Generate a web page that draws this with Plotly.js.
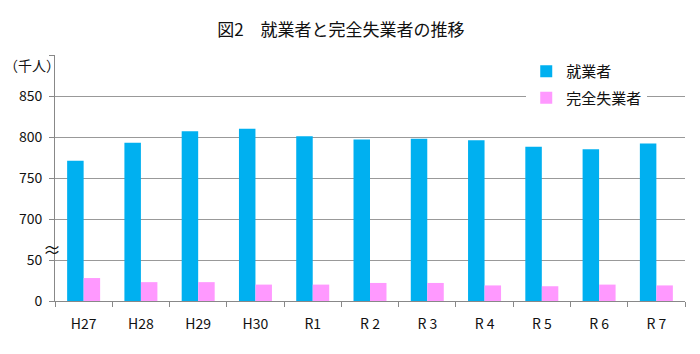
<!DOCTYPE html>
<html>
<head>
<meta charset="utf-8">
<script src="https://cdn.plot.ly/plotly-3.0.1.min.js"></script>
<style>html,body{margin:0;padding:0;background:#fff;}#chart{width:700px;height:354px;}</style>
</head>
<body>
<div id="chart"></div>
<script>
// Data (thousand persons)
const categories = ['H27', 'H28', 'H29', 'H30', 'R1', 'R 2', 'R 3', 'R 4', 'R 5', 'R 6', 'R 7'];
const employed = [771, 793, 807, 810, 801, 797, 798, 796, 788, 785, 792];
const unemployed = [28, 23, 23, 20, 20, 22, 22, 19, 18, 20, 19];
const tickValuesReal = [0, 50, 700, 750, 800, 850];
const tickLabels = ['0', '50', '700', '750', '800', '850'];

// Broken axis: 0-50 shown as is, values of 700 and above shifted down (700 -> 100)
const BREAK_SHIFT = 600;
function toAxis(v) { return v >= 100 ? v - BREAK_SHIFT : v; }

const FONT = '"Noto Sans CJK JP", "Noto Sans", sans-serif';

const traces = [
  {
    type: 'bar', name: '就業者', x: categories, y: employed.map(toAxis),
    customdata: employed, hovertemplate: '%{x}: %{customdata}<extra>就業者</extra>',
    marker: {color: '#00B0F0'}, legendgroup: 'a'
  },
  {
    type: 'bar', name: '完全失業者', x: categories, y: unemployed.map(toAxis),
    customdata: unemployed, hovertemplate: '%{x}: %{customdata}<extra>完全失業者</extra>',
    marker: {color: '#FF99FF'}, legendgroup: 'b'
  }
];

const tickvals = tickValuesReal.map(toAxis).concat([300]);
const ticktext = tickLabels.concat(['']);

const layout = {
  width: 700, height: 354,
  margin: {l: 55, r: 15, t: 55, b: 53},
  paper_bgcolor: '#fff', plot_bgcolor: '#fff',
  font: {family: FONT, size: 14, color: '#222'},
  title: {text: '図2　就業者と完全失業者の推移', x: 0.487, xanchor: 'center', y: 0.915, yanchor: 'middle',
          font: {family: FONT, size: 17, color: '#111'}},
  barmode: 'group', bargap: 0.424, bargroupgap: 0,
  showlegend: true,
  legend: {x: 0.748, xanchor: 'left', y: 1.0, yanchor: 'top', bgcolor: '#fff',
           font: {family: FONT, size: 15, color: '#111'}, traceorder: 'grouped', tracegroupgap: 4,
           itemwidth: 30},
  xaxis: {
    type: 'category', range: [-0.5, 10.5], tickson: 'boundaries',
    ticks: 'outside', ticklen: 5, tickcolor: '#888', showline: true, linecolor: '#888', linewidth: 1,
    showgrid: false, ticklabelstandoff: 10, tickfont: {family: FONT, size: 14, color: '#111'}
  },
  yaxis: {
    range: [0, 300], tickmode: 'array', tickvals: tickvals, ticktext: ticktext,
    ticks: 'outside', ticklen: 5, tickcolor: '#888', showline: true, linecolor: '#888', linewidth: 1,
    showgrid: true, gridcolor: '#999', gridwidth: 1, zeroline: false,
    ticklabelstandoff: 4, tickfont: {family: FONT, size: 14, color: '#111'}
  },
  annotations: [
    {text: '（千人）', xref: 'paper', yref: 'paper', x: -0.036, y: 0.96, xanchor: 'center', yanchor: 'middle',
     showarrow: false, font: {family: FONT, size: 14, color: '#111'}},
    {text: '≈', xref: 'paper', yref: 'y', x: -0.005, y: 64, xanchor: 'center', yanchor: 'middle',
     showarrow: false, font: {family: FONT, size: 18, color: '#111'}}
  ]
};

Plotly.newPlot('chart', traces, layout, {displayModeBar: false, staticPlot: true});
</script>
</body>
</html>
